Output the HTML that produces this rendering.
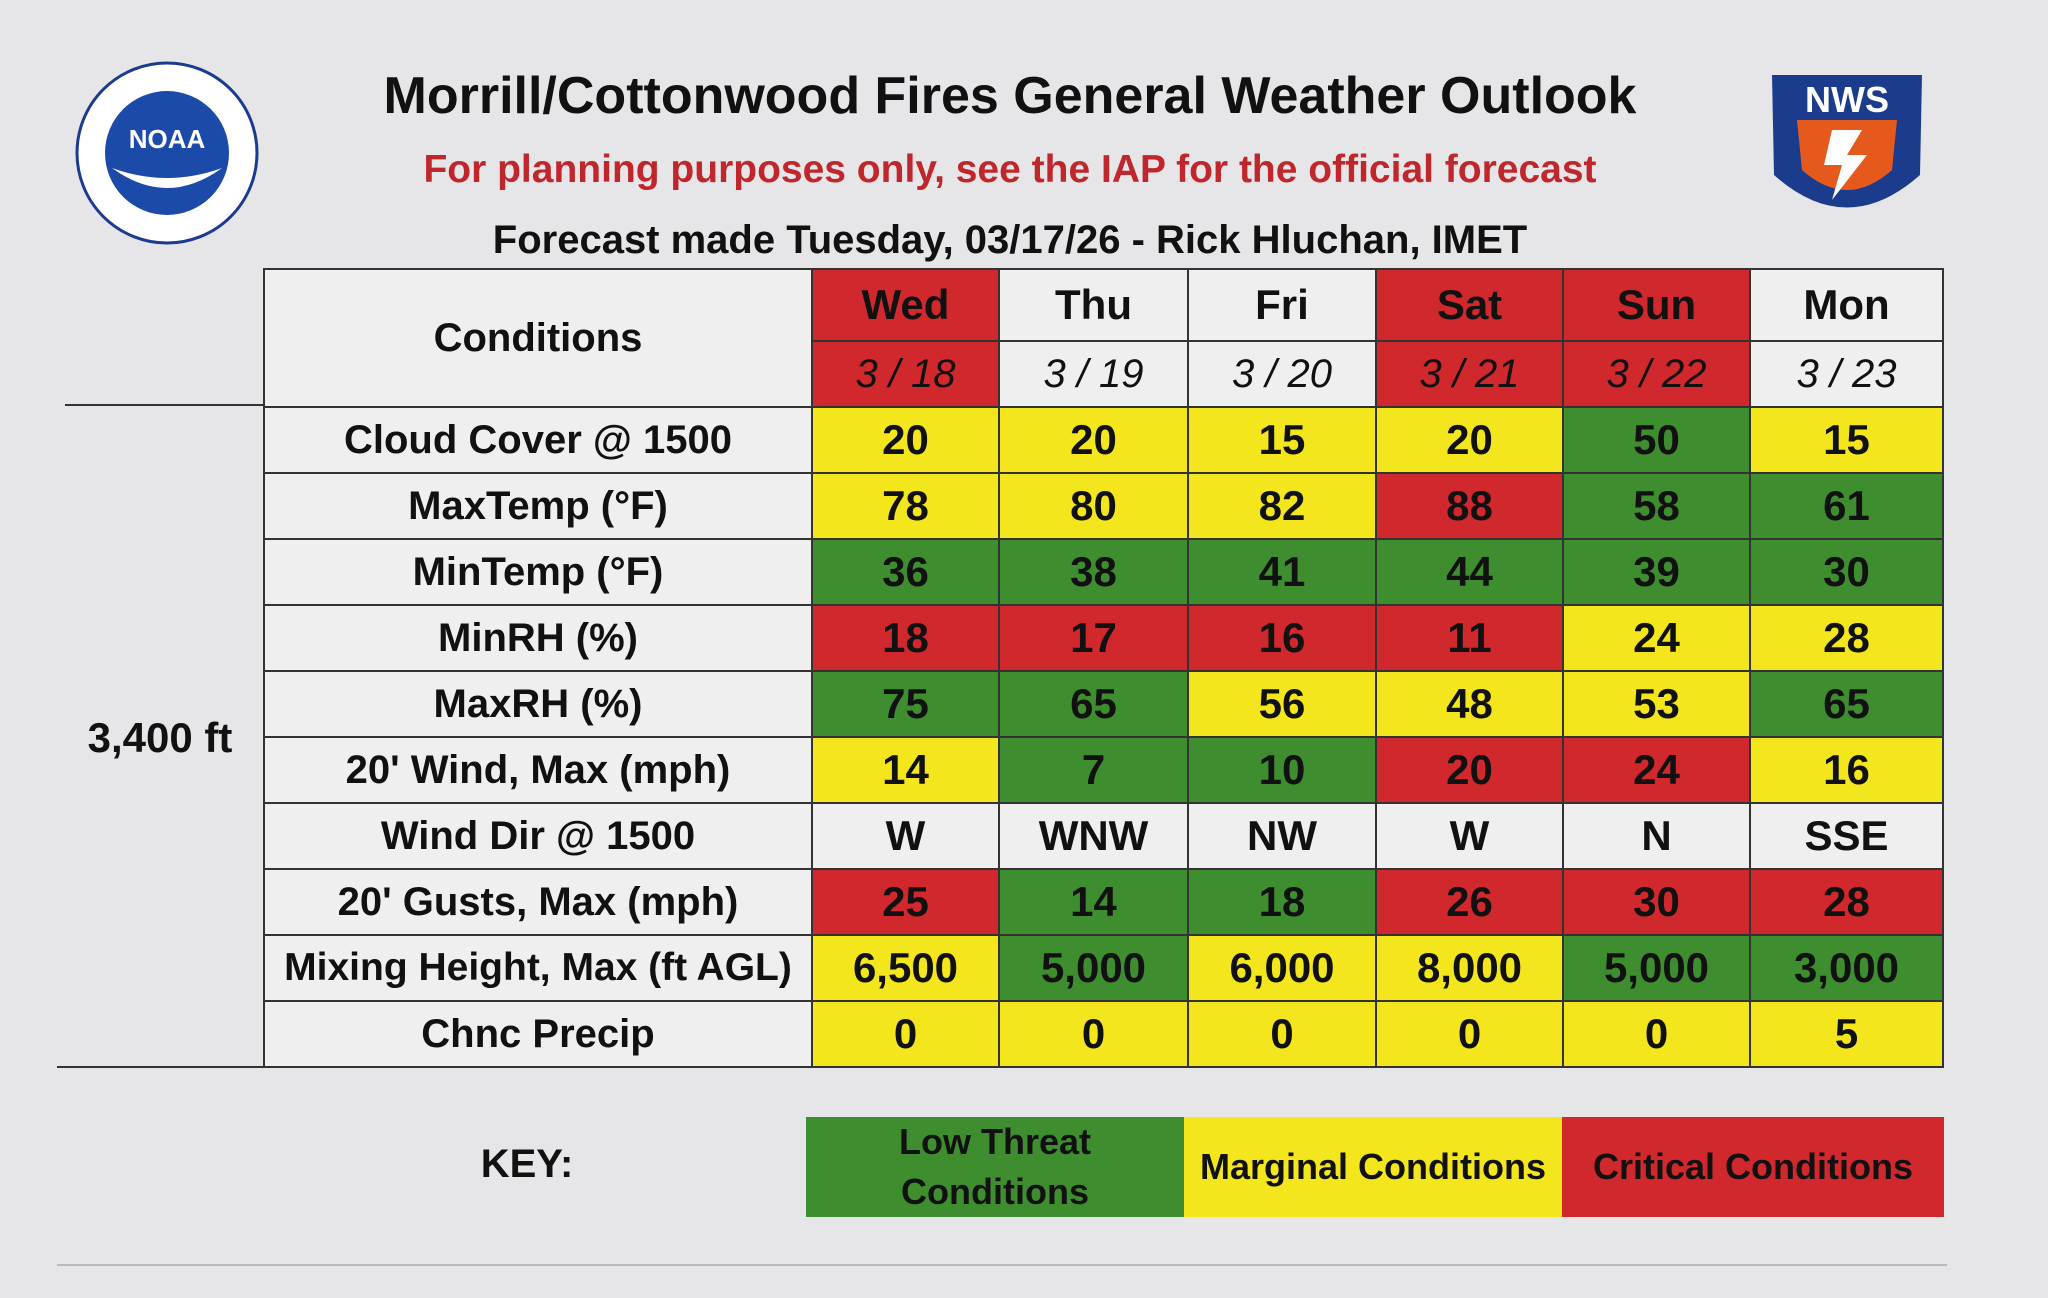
<!DOCTYPE html>
<html><head><meta charset="utf-8"><style>
body{margin:0;width:2048px;height:1298px;background:#e6e6e8;font-family:"Liberation Sans",sans-serif;position:relative;overflow:hidden;color:#111}
.t{position:absolute;white-space:nowrap;text-align:center;font-weight:bold}
table{position:absolute;left:263px;top:268px;border-collapse:collapse}
td{border:2px solid #333;text-align:center;font-weight:bold;font-size:42px;padding:0;height:64px}
.Y{background:#f3e61c}.G{background:#3e8d2f}.R{background:#d0282c}.W{background:#efeff0}
.lbl{background:#efeff0;font-size:40px}
.d{font-style:italic;font-weight:normal;font-size:40px}
</style></head><body>
<div class="t" style="left:300px;width:1420px;top:66px;font-size:52px">Morrill/Cottonwood Fires General Weather Outlook</div>
<div class="t" style="left:300px;width:1420px;top:148px;font-size:39px;color:#c0272d">For planning purposes only, see the IAP for the official forecast</div>
<div class="t" style="left:300px;width:1420px;top:218px;font-size:40px">Forecast made Tuesday, 03/17/26 - Rick Hluchan, IMET</div>
<svg style="position:absolute;left:72px;top:58px" width="190" height="190"><circle cx="95" cy="95" r="90" fill="#fff" stroke="#1a3b8f" stroke-width="3"/><circle cx="95" cy="95" r="62" fill="#1b4aa8"/><path d="M40 110 Q95 150 150 110 Q95 130 40 110Z" fill="#fff"/><text x="95" y="90" font-size="26" font-weight="bold" fill="#fff" text-anchor="middle" font-family="Liberation Sans">NOAA</text></svg>
<svg style="position:absolute;left:1752px;top:60px" width="190" height="180"><path d="M20 15 L170 15 L168 115 Q95 180 22 115Z" fill="#1b3c8c"/><path d="M45 60 L145 60 L140 110 Q95 150 50 110Z" fill="#e55a1c"/><path d="M80 70 L110 70 L95 95 L115 95 L80 140 L90 105 L72 105Z" fill="#fff"/><text x="95" y="52" font-size="36" font-weight="bold" fill="#fff" text-anchor="middle" font-family="Liberation Sans">NWS</text></svg>
<div style="position:absolute;left:65px;top:404px;width:198px;border-top:2px solid #333"></div>
<div style="position:absolute;left:57px;top:1066px;width:206px;border-top:2px solid #333"></div>
<div class="t" style="left:60px;width:200px;top:714px;font-size:42px">3,400 ft</div>
<table>
<tr><td rowspan="2" class="lbl" style="width:546px">Conditions</td><td class="R" style="width:185px;height:70px">Wed</td><td class="W" style="width:187px">Thu</td><td class="W" style="width:186px">Fri</td><td class="R" style="width:185px">Sat</td><td class="R" style="width:185px">Sun</td><td class="W" style="width:191px">Mon</td></tr>
<tr><td class="R d" style="height:62px">3 / 18</td><td class="W d">3 / 19</td><td class="W d">3 / 20</td><td class="R d">3 / 21</td><td class="R d">3 / 22</td><td class="W d">3 / 23</td></tr>
<tr><td class="lbl">Cloud Cover @ 1500</td><td class="Y">20</td><td class="Y">20</td><td class="Y">15</td><td class="Y">20</td><td class="G">50</td><td class="Y">15</td></tr>
<tr><td class="lbl">MaxTemp (°F)</td><td class="Y">78</td><td class="Y">80</td><td class="Y">82</td><td class="R">88</td><td class="G">58</td><td class="G">61</td></tr>
<tr><td class="lbl">MinTemp (°F)</td><td class="G">36</td><td class="G">38</td><td class="G">41</td><td class="G">44</td><td class="G">39</td><td class="G">30</td></tr>
<tr><td class="lbl">MinRH (%)</td><td class="R">18</td><td class="R">17</td><td class="R">16</td><td class="R">11</td><td class="Y">24</td><td class="Y">28</td></tr>
<tr><td class="lbl">MaxRH (%)</td><td class="G">75</td><td class="G">65</td><td class="Y">56</td><td class="Y">48</td><td class="Y">53</td><td class="G">65</td></tr>
<tr><td class="lbl">20' Wind, Max (mph)</td><td class="Y">14</td><td class="G">7</td><td class="G">10</td><td class="R">20</td><td class="R">24</td><td class="Y">16</td></tr>
<tr><td class="lbl">Wind Dir @ 1500</td><td class="W">W</td><td class="W">WNW</td><td class="W">NW</td><td class="W">W</td><td class="W">N</td><td class="W">SSE</td></tr>
<tr><td class="lbl">20' Gusts, Max (mph)</td><td class="R">25</td><td class="G">14</td><td class="G">18</td><td class="R">26</td><td class="R">30</td><td class="R">28</td></tr>
<tr><td class="lbl" style="font-size:39px">Mixing Height, Max (ft AGL)</td><td class="Y">6,500</td><td class="G">5,000</td><td class="Y">6,000</td><td class="Y">8,000</td><td class="G">5,000</td><td class="G">3,000</td></tr>
<tr><td class="lbl">Chnc Precip</td><td class="Y">0</td><td class="Y">0</td><td class="Y">0</td><td class="Y">0</td><td class="Y">0</td><td class="Y">5</td></tr>
</table>
<div class="t" style="left:420px;width:214px;top:1142px;font-size:40px">KEY:</div>
<div class="G t" style="left:806px;top:1117px;width:378px;height:100px;font-size:36px;line-height:50px">Low Threat<br>Conditions</div>
<div class="Y t" style="left:1184px;top:1117px;width:378px;height:100px;font-size:36px;line-height:100px">Marginal Conditions</div>
<div class="R t" style="left:1562px;top:1117px;width:382px;height:100px;font-size:36px;line-height:100px">Critical Conditions</div>
<div style="position:absolute;left:57px;top:1264px;width:1890px;border-top:2px solid #bbb"></div>
</body></html>
